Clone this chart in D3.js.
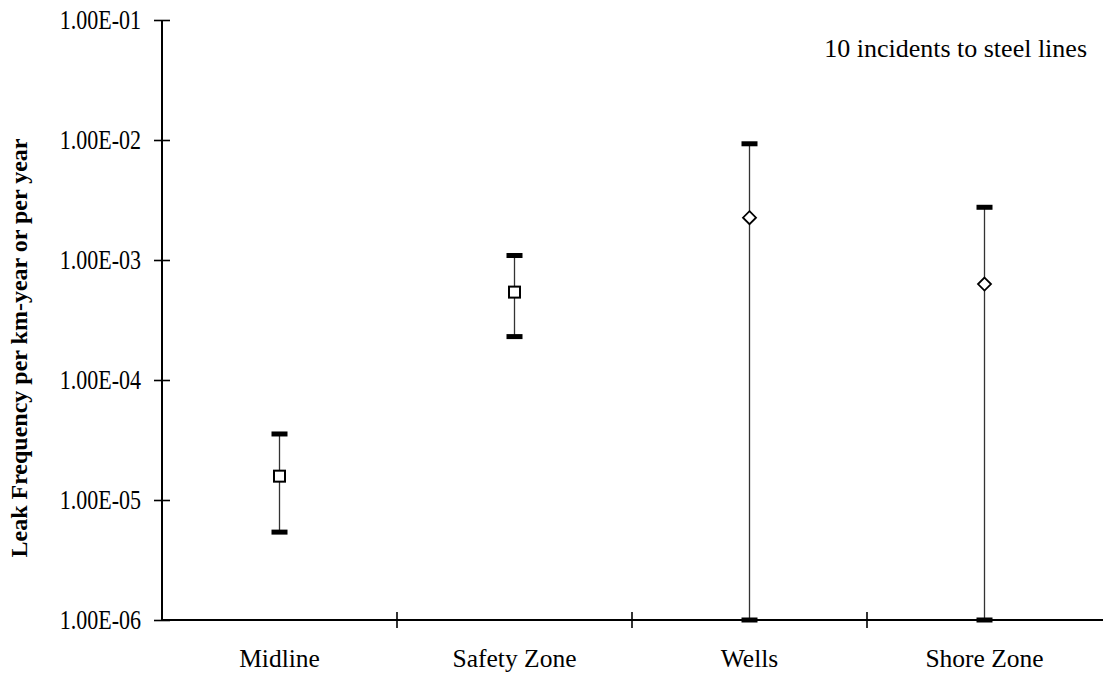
<!DOCTYPE html>
<html>
<head>
<meta charset="utf-8">
<script src="https://cdn.jsdelivr.net/npm/d3@7"></script>
<style>
  html, body { margin: 0; padding: 0; background: #fff; }
  svg { display: block; }
  text { font-family: "Liberation Serif", "Times New Roman", serif; fill: #000; }
</style>
</head>
<body>
<svg id="chart" width="1103" height="675"></svg>
<script>
// Leak frequency estimates with confidence ranges per pipeline zone
const categories = ["Midline", "Safety Zone", "Wells", "Shore Zone"];
const centralValues = [1.58e-5, 5.4e-4, 2.25e-3, 6.3e-4];
const upperValues = [3.55e-5, 1.09e-3, 9.3e-3, 2.75e-3];
const lowerValues = [5.4e-6, 2.3e-4, 1e-6, 1e-6];
const markerShapes = ["square", "square", "diamond", "diamond"];
const yTickValues = [1e-1, 1e-2, 1e-3, 1e-4, 1e-5, 1e-6];
const yTickLabels = ["1.00E-01", "1.00E-02", "1.00E-03", "1.00E-04", "1.00E-05", "1.00E-06"];
const yTitle = "Leak Frequency per km-year or per year";
const note = "10 incidents to steel lines";

const svg = d3.select("#chart");
const plotLeft = 162, plotRight = 1102, plotTop = 20, plotBottom = 620;

const x = d3.scaleBand().domain(categories).range([plotLeft, plotRight]).padding(0);
const y = d3.scaleLog().domain([1e-6, 1e-1]).range([plotBottom, plotTop]);

// Y axis
const yAxis = d3.axisLeft(y)
  .tickValues(yTickValues)
  .tickFormat((d, i) => yTickLabels[i])
  .tickSize(8)
  .tickPadding(13);
const gy = svg.append("g").attr("transform", `translate(${plotLeft},0)`).call(yAxis);
gy.select(".domain").attr("stroke", "#000").attr("stroke-width", 2).attr("d", `M0,${plotTop}V${plotBottom}`);
gy.selectAll(".tick line").attr("x1", -8).attr("x2", 8).attr("stroke", "#000").attr("stroke-width", 1.6);
gy.selectAll(".tick text")
  .attr("font-size", 22)
  .attr("transform", "scale(1,1.25)")
  .attr("fill", "#000");

// X axis: labels at band centres, ticks at band boundaries
const xAxis = d3.axisBottom(x).tickSize(0).tickPadding(29);
const gx = svg.append("g").attr("transform", `translate(0,${plotBottom})`).call(xAxis);
gx.select(".domain").attr("stroke", "#000").attr("stroke-width", 2).attr("d", `M${plotLeft},0H1103`);
gx.selectAll(".tick text").attr("font-size", 25.5).attr("fill", "#000");
const boundaries = categories.map(c => x(c) + x.bandwidth()).slice(0, -1);
gx.selectAll(".bound").data(boundaries).enter().append("line")
  .attr("x1", d => d).attr("x2", d => d)
  .attr("y1", -8).attr("y2", 8)
  .attr("stroke", "#000").attr("stroke-width", 1.6);

// Error bars
const cx = c => x(c) + x.bandwidth() / 2;
const bars = svg.append("g");
categories.forEach((c, i) => {
  bars.append("line")
    .attr("x1", cx(c)).attr("x2", cx(c))
    .attr("y1", y(upperValues[i])).attr("y2", y(lowerValues[i]))
    .attr("stroke", "#333").attr("stroke-width", 1.3);
  [upperValues[i], lowerValues[i]].forEach(v => {
    bars.append("rect")
      .attr("x", cx(c) - 8).attr("y", y(v) - 2.5)
      .attr("width", 16).attr("height", 5)
      .attr("fill", "#000");
  });
});

// Central estimate markers
categories.forEach((c, i) => {
  const px = cx(c), py = y(centralValues[i]);
  if (markerShapes[i] === "square") {
    svg.append("rect")
      .attr("x", px - 5.5).attr("y", py - 5.5)
      .attr("width", 11).attr("height", 11)
      .attr("fill", "#fff").attr("stroke", "#000").attr("stroke-width", 2);
  } else {
    svg.append("path")
      .attr("d", `M${px},${py - 6.5}L${px + 6.5},${py}L${px},${py + 6.5}L${px - 6.5},${py}Z`)
      .attr("fill", "#fff").attr("stroke", "#000").attr("stroke-width", 1.8);
  }
});

// Y axis title
svg.append("text")
  .attr("transform", `translate(27,${(plotTop + plotBottom) / 2 + 28}) rotate(-90)`)
  .attr("text-anchor", "middle")
  .attr("font-size", 24).attr("font-weight", "bold")
  .text(yTitle);

// Annotation
svg.append("text")
  .attr("x", 1087).attr("y", 57)
  .attr("text-anchor", "end")
  .attr("font-size", 26)
  .text(note);
</script>
</body>
</html>
